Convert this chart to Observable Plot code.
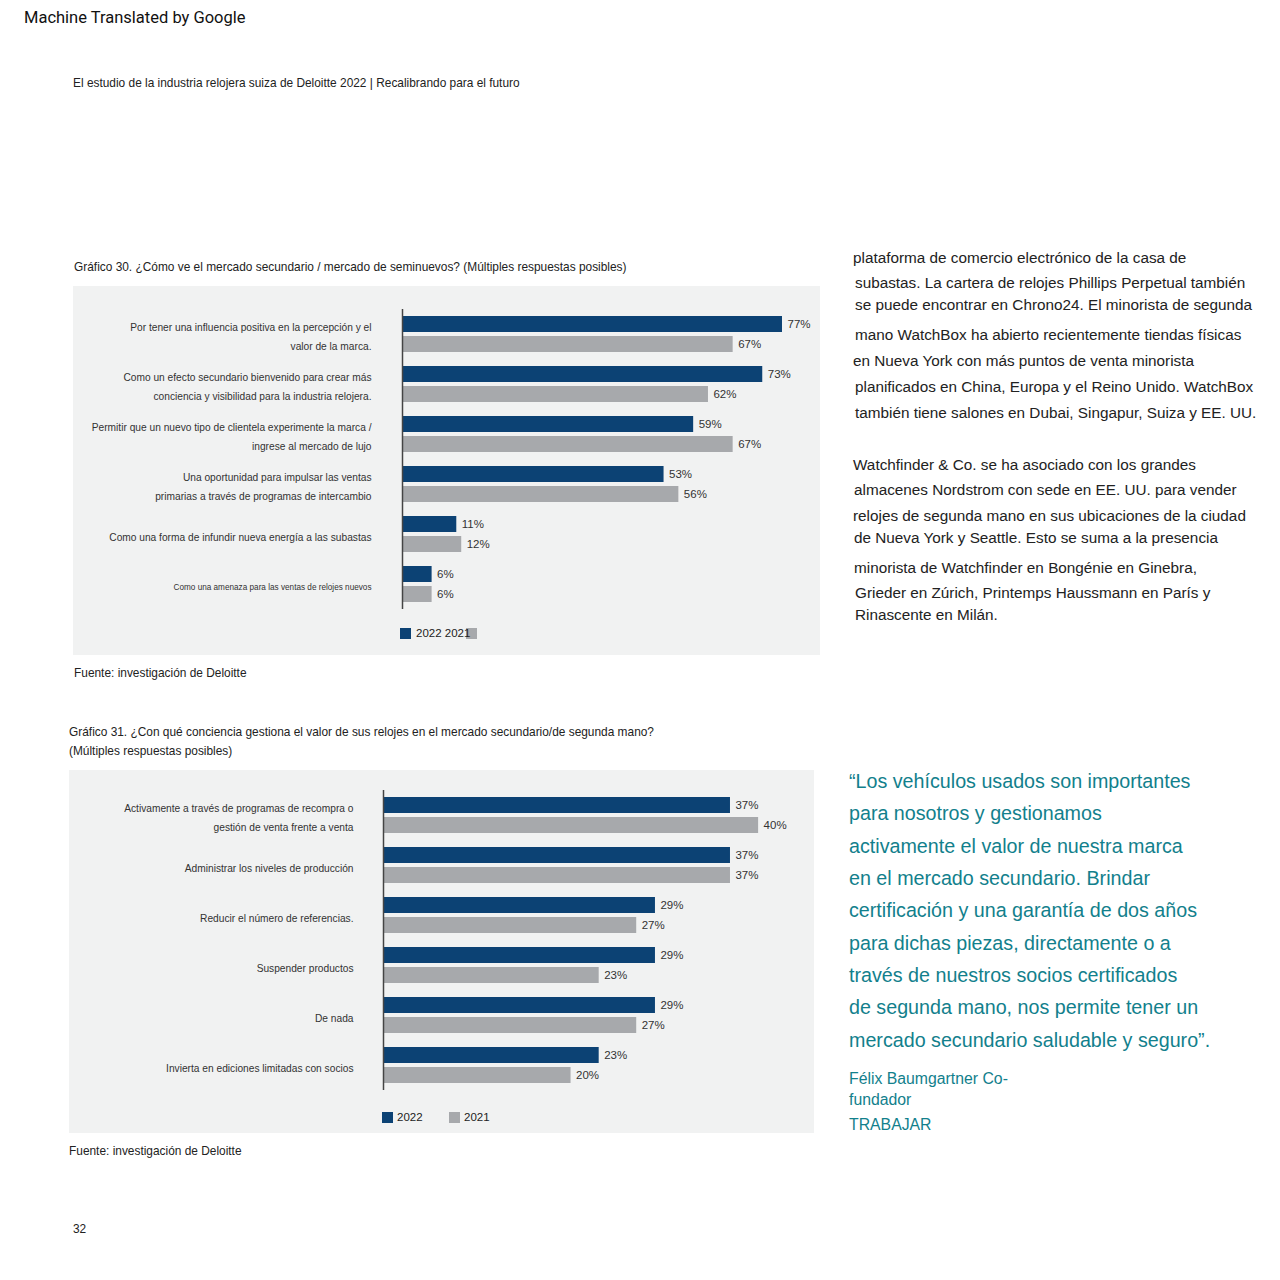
<!DOCTYPE html>
<html>
<head>
<meta charset="utf-8">
<script src="https://cdn.jsdelivr.net/npm/d3@7"></script>
<script src="https://cdn.jsdelivr.net/npm/@observablehq/plot@0.6"></script>
<style>
  html, body { margin: 0; padding: 0; background: #fff; }
  #page { position: relative; width: 1280px; height: 1280px; overflow: hidden; font-family: "Liberation Sans", Arial, sans-serif; color: #222; }
  .t { position: absolute; white-space: nowrap; }
  .panel { position: absolute; background: #f1f2f2; }
  .panel svg { position: absolute; left: 0; top: 0; }
  .sq { position: absolute; width: 11px; height: 11px; }
</style>
</head>
<body>
<div id="page"></div>
<script>
// ---------- data ----------
const years = ["2022", "2021"];
const colors = ["#0c4274", "#a7a9ac"];

const categories30 = [
  "Por tener una influencia positiva en la percepción y el\nvalor de la marca.",
  "Como un efecto secundario bienvenido para crear más\nconciencia y visibilidad para la industria relojera.",
  "Permitir que un nuevo tipo de clientela experimente la marca /\ningrese al mercado de lujo",
  "Una oportunidad para impulsar las ventas\nprimarias a través de programas de intercambio",
  "Como una forma de infundir nueva energía a las subastas",
  "Como una amenaza para las ventas de relojes nuevos"
];
const values2022_30 = [77, 73, 59, 53, 11, 6];
const values2021_30 = [67, 62, 67, 56, 12, 6];
const labelSizes30 = [10.2, 10.2, 10.2, 10.2, 10.2, 8.2];

const categories31 = [
  "Activamente a través de programas de recompra o\ngestión de venta frente a venta",
  "Administrar los niveles de producción",
  "Reducir el número de referencias.",
  "Suspender productos",
  "De nada",
  "Invierta en ediciones limitadas con socios"
];
const values2022_31 = [37, 37, 29, 29, 29, 23];
const values2021_31 = [40, 37, 27, 23, 27, 20];
const labelSizes31 = [10.2, 10.2, 10.2, 10.2, 10.2, 10.2];

const headerText = "Machine Translated by Google";
const runningHead = "El estudio de la industria relojera suiza de Deloitte 2022 | Recalibrando para el futuro";
const title30 = "Gráfico 30. ¿Cómo ve el mercado secundario / mercado de seminuevos? (Múltiples respuestas posibles)";
const title31 = ["Gráfico 31. ¿Con qué conciencia gestiona el valor de sus relojes en el mercado secundario/de segunda mano?", "(Múltiples respuestas posibles)"];
const sourceText = "Fuente: investigación de Deloitte";
const pageNumber = "32";

const bodyLines = [
  "plataforma de comercio electrónico de la casa de",
  "subastas. La cartera de relojes Phillips Perpetual también",
  "se puede encontrar en Chrono24. El minorista de segunda",
  "mano WatchBox ha abierto recientemente tiendas físicas",
  "en Nueva York con más puntos de venta minorista",
  "planificados en China, Europa y el Reino Unido. WatchBox",
  "también tiene salones en Dubai, Singapur, Suiza y EE. UU.",
  "Watchfinder & Co. se ha asociado con los grandes",
  "almacenes Nordstrom con sede en EE. UU. para vender",
  "relojes de segunda mano en sus ubicaciones de la ciudad",
  "de Nueva York y Seattle. Esto se suma a la presencia",
  "minorista de Watchfinder en Bongénie en Ginebra,",
  "Grieder en Zúrich, Printemps Haussmann en París y",
  "Rinascente en Milán."
];
const quoteLines = [
  "“Los vehículos usados son importantes",
  "para nosotros y gestionamos",
  "activamente el valor de nuestra marca",
  "en el mercado secundario. Brindar",
  "certificación y una garantía de dos años",
  "para dichas piezas, directamente o a",
  "través de nuestros socios certificados",
  "de segunda mano, nos permite tener un",
  "mercado secundario saludable y seguro”."
];
const attributionLines = ["Félix Baumgartner Co-", "fundador", "TRABAJAR"];

// ---------- layout helpers ----------
const page = document.getElementById("page");
function txt(s, x, yc, size, opts = {}) {
  const d = document.createElement("div");
  d.className = "t";
  const lh = size * 1.3;
  d.style.left = x + "px";
  d.style.top = (yc - lh / 2) + "px";
  d.style.fontSize = size + "px";
  d.style.lineHeight = lh + "px";
  if (opts.color) d.style.color = opts.color;
  if (opts.font) d.style.fontFamily = opts.font;
  d.textContent = s;
  (opts.parent || page).appendChild(d);
  return d;
}

txt(headerText, 24, 18, 16.5, {font: "Roboto, sans-serif", color: "#111"});
txt(runningHead, 73, 84, 11.9, {color: "#222"});
txt(title30, 74, 268, 11.9);
txt(sourceText, 74, 674, 11.9);
txt(title31[0], 69, 733, 11.9);
txt(title31[1], 69, 752, 11.9);
txt(sourceText, 69, 1152, 11.9);
txt(pageNumber, 73, 1230, 11.9);

const bodyY = [258, 283, 305, 335, 361, 387, 413, 465, 490, 516, 538, 568, 593, 615];
const bodyX = [853, 855, 855, 855, 853, 855, 855, 853, 854, 853, 854, 854, 855, 855];
bodyLines.forEach((s, i) => txt(s, bodyX[i], bodyY[i], 15.3, {color: "#222"}));

const teal = "#12808c";
quoteLines.forEach((s, i) => txt(s, 849, 782 + i * 32.3, 19.7, {color: teal}));
[1079, 1100, 1125].forEach((y, i) => txt(attributionLines[i], 849, y, 15.8, {color: teal}));

// ---------- chart builder ----------
function makeChart(cats, v22, v21, sizes, cfg) {
  const rows = [];
  cats.forEach((c, i) => {
    rows.push({cat: c, year: years[0], value: v22[i]});
    rows.push({cat: c, year: years[1], value: v21[i]});
  });
  const catRows = cats.map((c, i) => ({cat: c, size: sizes[i]}));
  return Plot.plot({
    width: cfg.width,
    height: cfg.height,
    marginLeft: cfg.marginLeft,
    marginRight: cfg.marginRight,
    marginTop: cfg.marginTop,
    marginBottom: cfg.marginBottom,
    style: {background: "transparent", fontFamily: "'Liberation Sans', Arial, sans-serif", overflow: "visible"},
    x: {domain: [0, cfg.xMax], axis: null},
    fy: {domain: cats, padding: 0, axis: null},
    y: {domain: years, paddingInner: 0.2, paddingOuter: 0.35, axis: null},
    color: {domain: years, range: colors},
    marks: [
      Plot.barX(rows, {x: "value", y: "year", fy: "cat", fill: "year"}),
      Plot.text(rows, {x: "value", y: "year", fy: "cat", text: d => d.value + "%", textAnchor: "start", dx: 5, fontSize: 11.5, fill: "#333"}),
      Plot.text(catRows, {x: 0, fy: "cat", text: "cat", textAnchor: "end", dx: -cfg.labelPad, fontSize: d => d.size, lineHeight: 1.9, fill: "#333"}),
      Plot.ruleX(catRows, {x: 0, fy: "cat", stroke: "#444", strokeWidth: 1.5})
    ]
  });
}

function panel(x, y, w, h) {
  const d = document.createElement("div");
  d.className = "panel";
  d.style.left = x + "px"; d.style.top = y + "px";
  d.style.width = w + "px"; d.style.height = h + "px";
  page.appendChild(d);
  return d;
}
function square(parent, x, y, color) {
  const s = document.createElement("div");
  s.className = "sq";
  s.style.left = x + "px"; s.style.top = y + "px";
  s.style.background = color;
  parent.appendChild(s);
}

// Chart 30
const p30 = panel(73, 286, 747, 369);
p30.appendChild(makeChart(categories30, values2022_30, values2021_30, labelSizes30, {
  width: 747, height: 329, marginLeft: 329, marginRight: 1, marginTop: 23, marginBottom: 6, xMax: 84.5, labelPad: 31
}));
square(p30, 327, 342, colors[0]);
square(p30, 393, 342, colors[1]);
txt(years.join(" "), 343, 347.5, 11.5, {parent: p30, color: "#222"});

// Chart 31
const p31 = panel(69, 770, 745, 363);
p31.appendChild(makeChart(categories31, values2022_31, values2021_31, labelSizes31, {
  width: 745, height: 326, marginLeft: 314, marginRight: 9, marginTop: 20, marginBottom: 6, xMax: 45, labelPad: 30
}));
square(p31, 313, 342, colors[0]);
txt(years[0], 328, 347.5, 11.5, {parent: p31, color: "#222"});
square(p31, 380, 342, colors[1]);
txt(years[1], 395, 347.5, 11.5, {parent: p31, color: "#222"});
</script>
</body>
</html>
